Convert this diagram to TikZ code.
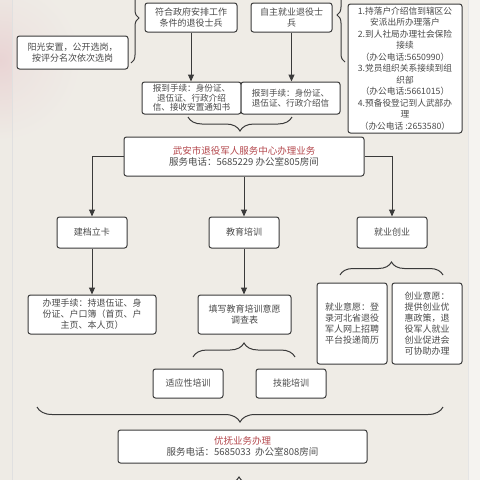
\documentclass[tikz,border=0pt]{standalone}
\usepackage{fontspec}
\setmainfont{Noto Sans CJK SC}
\usetikzlibrary{arrows.meta,decorations.pathreplacing,calc}
\definecolor{bgc}{HTML}{EEEBE5}
\definecolor{paperc}{HTML}{F0EDE8}
\definecolor{edgec}{HTML}{F5F3F0}
\definecolor{pinkc}{HTML}{E9D4D4}
\definecolor{linec}{HTML}{3A3A3A}
\definecolor{txt}{HTML}{4A4A4A}
\definecolor{redt}{HTML}{B4474C}
\tikzset{
  box/.style={draw=linec, fill=white, line width=1pt, rounded corners=2.5pt,
    inner sep=1pt, align=center, text=txt, font=\fontsize{9}{11}\selectfont},
  small/.style={font=\fontsize{8.6}{9.6}\selectfont},
  big/.style={font=\fontsize{9.5}{11.5}\selectfont},
  listf/.style={font=\fontsize{8.7}{11.5}\selectfont},
  arr/.style={draw=linec, line width=1pt, -{Triangle[length=7pt,width=6pt]}},
  bracestyle/.style={draw=linec, line width=1pt, decorate, decoration={brace, amplitude=#1}},
}
\begin{document}
\begin{tikzpicture}[x=1pt,y=-1pt]
\useasboundingbox (0,0) rectangle (480,480);
\clip (0,0) rectangle (480,480);
% background
\fill[bgc] (0,0) rectangle (480,480);
\shade[inner color=pinkc, outer color=bgc] (0,60) circle (80);
\fill[paperc, opacity=0.5] (12,0) rectangle (468,480);
\fill[edgec] (468,0) rectangle (480,480);
\draw[color=black!12, line width=0.6pt] (12,0) -- (12,480);
\draw[color=black!10, line width=0.6pt] (468,0) -- (468,480);

% top row
\node[box, minimum width=92pt, minimum height=29pt] (fuhe) at (191,17.5) {符合政府安排工作\\条件的退役士兵};
\node[box, minimum width=81pt, minimum height=29pt] (zizhu) at (291.5,17.5) {自主就业退役士\\兵};
\node[box, minimum width=111pt, minimum height=33pt] (yang) at (72.5,52.5) {阳光安置，公开选岗，\\按评分名次依次选岗};
\node[box, listf, minimum width=114pt, minimum height=129pt] (list) at (405,68.5)
 {1.持落户介绍信到辖区公\\安派出所办理落户\\2.到人社局办理社会保险\\接续\\（办公电话:5650990）\\3.党员组织关系接续到组\\织部\\（办公电话:5661015）\\4.预备役登记到人武部办\\理\\（办公电话 :2653580）};

\node[box, small, minimum width=99pt, minimum height=32pt] (bd1) at (191.5,98) {报到手续：身份证、\\退伍证、行政介绍\\信、接收安置通知书};
\node[box, small, minimum width=99pt, minimum height=32pt] (bd2) at (290.5,98) {报到手续：身份证、\\退伍证、行政介绍信};

% main
\node[box, big, minimum width=240pt, minimum height=39pt] (main) at (244,156.5) {{\color{redt}武安市退役军人服务中心办理业务}\\服务电话：5685229 办公室805房间};

\node[box, minimum width=70pt, minimum height=31pt] (jd) at (92,232.5) {建档立卡};
\node[box, minimum width=70pt, minimum height=31pt] (jy) at (244,232.5) {教育培训};
\node[box, minimum width=70pt, minimum height=31pt] (cy) at (392,232.5) {就业创业};

\node[box, minimum width=128pt, minimum height=39pt] (bl) at (92,314.5) {办理手续：持退伍证、身\\份证、户口簿（首页、户\\主页、本人页）};
\node[box, minimum width=93pt, minimum height=39pt] (tx) at (244.5,314.5) {填写教育培训意愿\\调查表};

\node[box, minimum width=70pt, minimum height=29pt] (sy) at (188,383.5) {适应性培训};
\node[box, minimum width=70pt, minimum height=29pt] (jn) at (291,383.5) {技能培训};

\node[box, minimum width=70pt, minimum height=81pt] (jyyy) at (352,323.5) {就业意愿：登\\录河北省退役\\军人网上招聘\\平台投递简历};
\node[box, minimum width=70pt, minimum height=81pt] (cyyy) at (427,323.5) {创业意愿：\\提供创业优\\惠政策，退\\役军人就业\\创业促进会\\可协助办理};

\node[box, big, minimum width=249pt, minimum height=33pt] (yf) at (242.5,446.5) {{\color{redt}优抚业务办理}\\服务电话：5685033\ \ 办公室808房间};

% arrows
\draw[arr] (fuhe.south) -- (fuhe.south |- bd1.north);
\draw[arr] (zizhu.south) -- (zizhu.south |- bd2.north);
\draw[arr] (main.west) -| (jd.north);
\draw[arr] (main.south) -- (jy.north);
\draw[arr] (main.east) -| (cy.north);
\draw[arr] (jd.south) -- (bl.north);
\draw[arr] (jy.south) -- (jy.south |- tx.north);

% braces
\draw[bracestyle=8pt] (131,-27) -- (131,63);
\draw[bracestyle=8pt] (345,62) -- (345,-32);
\draw[bracestyle=14pt] (292,117) -- (188,117);
\draw[bracestyle=14pt] (193,357) -- (295,357);
\draw[bracestyle=13pt] (340,275) -- (443,275);
\draw[bracestyle=15pt] (443,407) -- (37,407);
\draw[bracestyle=14pt] (128,491) -- (350,491);
\end{tikzpicture}
\end{document}
